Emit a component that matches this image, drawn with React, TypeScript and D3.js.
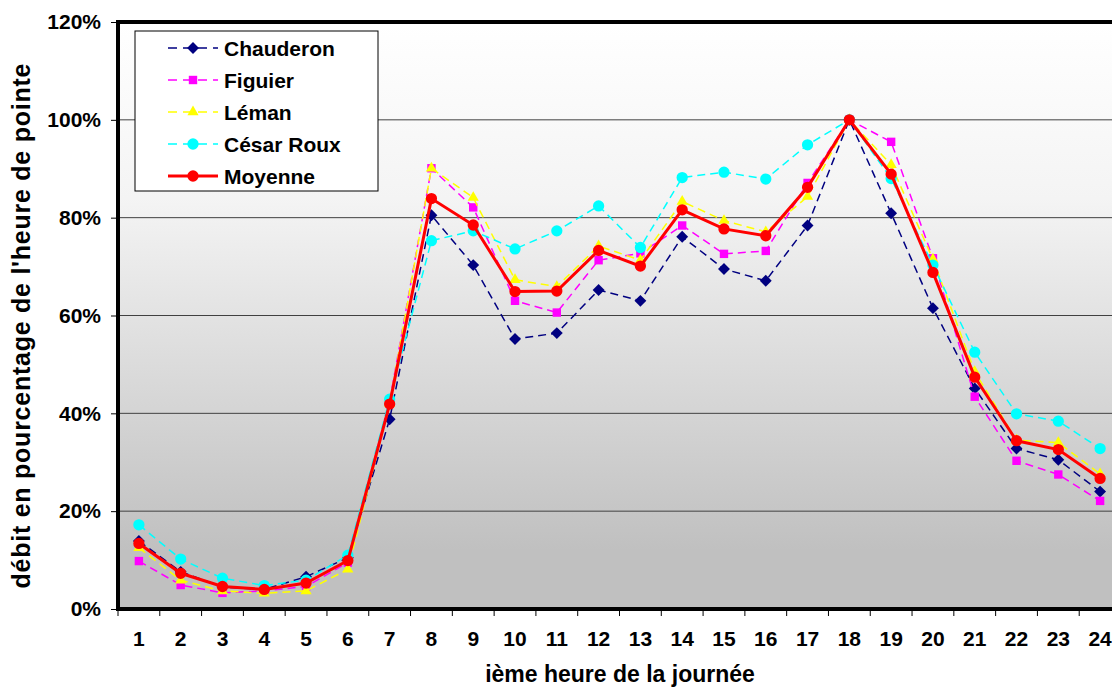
import React, { useEffect, useRef } from 'react';
import * as d3 from 'd3';

const hours = d3.range(1, 25).map(String);
const yTicks = [0, 20, 40, 60, 80, 100, 120];

const chauderon = [13.9, 7.6, 4.5, 4.0, 6.6, 10.5, 38.8, 80.5, 70.3, 55.2, 56.4, 65.2, 63.0, 76.1, 69.5, 67.1, 78.4, 100, 80.9, 61.5, 45.1, 32.8, 30.5, 24.0];
const figuier = [9.8, 4.9, 3.3, 3.7, 4.6, 9.5, 42.5, 90.1, 82.1, 63.0, 60.6, 71.3, 72.7, 78.4, 72.6, 73.2, 87.1, 100, 95.5, 71.7, 43.4, 30.3, 27.5, 22.1];
const leman = [12.5, 5.9, 3.7, 3.2, 3.7, 8.1, 42.0, 90.1, 84.1, 67.3, 65.9, 74.2, 71.3, 83.3, 79.4, 77.1, 84.3, 100, 90.8, 71.5, 48.5, 34.5, 34.0, 27.6];
const cesarRoux = [17.2, 10.2, 6.3, 4.8, 5.9, 11.0, 42.9, 75.3, 77.3, 73.6, 77.3, 82.4, 73.9, 88.2, 89.3, 87.9, 94.9, 100, 88.0, 70.3, 52.5, 39.9, 38.4, 32.8];
const moyenne = [13.4, 7.3, 4.6, 4.0, 5.3, 9.9, 41.9, 83.9, 78.5, 64.9, 65.0, 73.3, 70.1, 81.6, 77.7, 76.3, 86.2, 100, 88.9, 68.8, 47.4, 34.4, 32.6, 26.7];

const seriesNames = ['Chauderon', 'Figuier', 'Léman', 'César Roux', 'Moyenne'];

interface Series {
  name: string;
  values: number[];
  color: string;
  marker: d3.SymbolType;
  size: number;
  dashed: boolean;
  width: number;
}

const series: Series[] = [
  { name: seriesNames[0], values: chauderon, color: '#000080', marker: d3.symbolDiamond2, size: 90, dashed: true, width: 1.5 },
  { name: seriesNames[1], values: figuier, color: '#ff00ff', marker: d3.symbolSquare2, size: 90, dashed: true, width: 1.5 },
  { name: seriesNames[2], values: leman, color: '#ffff00', marker: d3.symbolTriangle2, size: 90, dashed: true, width: 1.5 },
  { name: seriesNames[3], values: cesarRoux, color: '#00ffff', marker: d3.symbolCircle, size: 100, dashed: true, width: 1.5 },
  { name: seriesNames[4], values: moyenne, color: '#ff0000', marker: d3.symbolCircle, size: 100, dashed: false, width: 3 },
];

const FONT = 'Liberation Sans, Arial, sans-serif';

const App: React.FC = () => {
  const ref = useRef<SVGSVGElement>(null);

  useEffect(() => {
    const width = 1112;
    const height = 688;
    const left = 118;
    const right = 1121;
    const top = 22;
    const bottom = 609;

    const svg = d3.select(ref.current);
    svg.selectAll('*').remove();
    svg.attr('width', width).attr('height', height);

    const x = d3.scaleBand<string>().domain(hours).range([left, right]);
    const y = d3.scaleLinear().domain([0, 120]).range([bottom, top]);

    const defs = svg.append('defs');
    const grad = defs.append('linearGradient').attr('id', 'bg').attr('x1', 0).attr('y1', 0).attr('x2', 0).attr('y2', 1);
    grad.append('stop').attr('offset', '0%').attr('stop-color', '#ffffff');
    grad.append('stop').attr('offset', '30%').attr('stop-color', '#f4f4f4');
    grad.append('stop').attr('offset', '90%').attr('stop-color', '#c0c0c0');
    grad.append('stop').attr('offset', '100%').attr('stop-color', '#c0c0c0');

    svg.append('rect')
      .attr('x', left).attr('y', top)
      .attr('width', right - left).attr('height', bottom - top)
      .attr('fill', 'url(#bg)');

    // gridlines
    svg.append('g')
      .selectAll('line')
      .data(yTicks.filter((t) => t > 0 && t < 120))
      .enter()
      .append('line')
      .attr('x1', left).attr('x2', right)
      .attr('y1', (d) => y(d)).attr('y2', (d) => y(d))
      .attr('stroke', '#404040')
      .attr('stroke-width', 1);

    // y axis
    const yAxis = svg.append('g')
      .attr('transform', `translate(${left},0)`)
      .call(d3.axisLeft(y).tickValues(yTicks).tickFormat((d) => `${d}%`).tickSize(7).tickPadding(10));
    yAxis.select('.domain').remove();
    yAxis.selectAll('text')
      .attr('font-family', FONT)
      .attr('font-weight', 'bold')
      .attr('font-size', 21)
      .attr('fill', '#000');

    // x axis, ticks sit between categories
    const xAxis = svg.append('g')
      .attr('transform', `translate(0,${bottom})`)
      .call(d3.axisBottom(x).tickSize(0).tickPadding(22));
    xAxis.select('.domain').remove();
    xAxis.selectAll('text')
      .attr('font-family', FONT)
      .attr('font-weight', 'bold')
      .attr('font-size', 21)
      .attr('fill', '#000');
    xAxis.selectAll('line.sep')
      .data(d3.range(0, hours.length + 1))
      .enter()
      .append('line')
      .attr('class', 'sep')
      .attr('x1', (i) => left + i * x.bandwidth())
      .attr('x2', (i) => left + i * x.bandwidth())
      .attr('y1', 0).attr('y2', 7)
      .attr('stroke', '#000');

    // frame
    svg.append('rect')
      .attr('x', left).attr('y', top)
      .attr('width', right - left).attr('height', bottom - top)
      .attr('fill', 'none')
      .attr('stroke', '#000')
      .attr('stroke-width', 4);

    const cx = (i: number) => (x(hours[i]) as number) + x.bandwidth() / 2;
    const line = d3.line<number>().x((_, i) => cx(i)).y((d) => y(d));

    series.forEach((s) => {
      const g = svg.append('g');
      g.append('path')
        .datum(s.values)
        .attr('d', line)
        .attr('fill', 'none')
        .attr('stroke', s.color)
        .attr('stroke-width', s.width)
        .attr('stroke-dasharray', s.dashed ? '8,5' : null);
      g.selectAll('path.m')
        .data(s.values)
        .enter()
        .append('path')
        .attr('class', 'm')
        .attr('d', d3.symbol().type(s.marker).size(s.size)())
        .attr('transform', (d, i) => `translate(${cx(i)},${y(d)})`)
        .attr('fill', s.color);
    });

    // legend
    const lg = svg.append('g').attr('transform', 'translate(135,31)');
    lg.append('rect')
      .attr('width', 243).attr('height', 160)
      .attr('fill', '#fff')
      .attr('stroke', '#000')
      .attr('stroke-width', 1);
    series.forEach((s, i) => {
      const ly = 17 + i * 32;
      lg.append('line')
        .attr('x1', 33).attr('x2', 83)
        .attr('y1', ly).attr('y2', ly)
        .attr('stroke', s.color)
        .attr('stroke-width', s.width)
        .attr('stroke-dasharray', s.dashed ? '9,6' : null);
      lg.append('path')
        .attr('d', d3.symbol().type(s.marker).size(s.size)())
        .attr('transform', `translate(58,${ly})`)
        .attr('fill', s.color);
      lg.append('text')
        .attr('x', 89).attr('y', ly + 8)
        .attr('font-family', FONT)
        .attr('font-weight', 'bold')
        .attr('font-size', 21)
        .text(s.name);
    });

    // axis titles
    svg.append('text')
      .attr('x', 620).attr('y', 682)
      .attr('text-anchor', 'middle')
      .attr('font-family', FONT)
      .attr('font-weight', 'bold')
      .attr('font-size', 23)
      .text('ième heure de la journée');
    svg.append('text')
      .attr('transform', 'translate(30,326) rotate(-90)')
      .attr('text-anchor', 'middle')
      .attr('font-family', FONT)
      .attr('font-weight', 'bold')
      .attr('font-size', 25)
      .attr('textLength', 525)
      .attr('lengthAdjust', 'spacing')
      .text("débit en pourcentage de l'heure de pointe");
  }, []);

  return <svg ref={ref} style={{ position: 'absolute', left: 0, top: 0 }} />;
};

export default App;
